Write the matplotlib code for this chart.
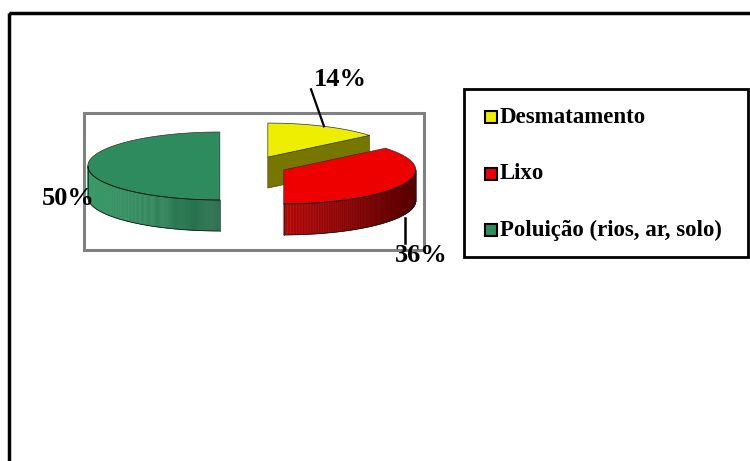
import numpy as np
import matplotlib.pyplot as plt
from matplotlib.patches import Polygon, Rectangle
from matplotlib.colors import to_rgb

# dados do gráfico
categorias = ["Desmatamento", "Lixo", "Poluição (rios, ar, solo)"]
valores = [14, 36, 50]
cores_topo = ["#eeee00", "#ee0000", "#2e8b5e"]
cores_lado = [("#777700", "#777700"), ("#b40000", "#560000"), ("#3a9c6a", "#216846")]
explode = [0.29, 0.27, 0.24]

fig = plt.figure(figsize=(7.5, 4.61), dpi=100)
ax = fig.add_axes([0, 0, 1, 1])
ax.set_xlim(0, 750)
ax.set_ylim(461, 0)
ax.axis('off')

# moldura externa e área do gráfico
ax.add_patch(Rectangle((9, 13), 760, 470, fill=False, ec='black', lw=2.5))
ax.add_patch(Rectangle((84, 113), 340, 137, fill=False, ec='#808080', lw=2.2))

# pizza 3D em perspectiva
cx0, cy0 = 251.5, 166
ra, rb, prof = 132, 34, 31


def ponto(cx, cy, t, dz=0):
    return cx + ra * np.cos(t), cy - rb * np.sin(t) + dz


def mistura(c1, c2, f):
    a, b = np.array(to_rgb(c1)), np.array(to_rgb(c2))
    return a + (b - a) * f


total = sum(valores)
ang = np.deg2rad(90)
geo = []
for i, v in enumerate(valores):
    varre = np.deg2rad(360 * v / total)
    t1, t0 = ang, ang - varre
    meio = (t0 + t1) / 2
    cx = cx0 + explode[i] * ra * np.cos(meio)
    cy = cy0 - explode[i] * rb * np.sin(meio)
    geo.append((cx, cy, t0, t1, meio))
    ang = t0

for i, (cx, cy, t0, t1, meio) in enumerate(geo):
    # face de corte visível (lado final do setor, voltada para frente)
    n_fim = t0 - np.pi / 2
    if np.sin(n_fim) < 0 and abs(np.cos(t0)) > 1e-6:
        px, py = ponto(cx, cy, t0)
        ax.add_patch(Polygon([(cx, cy), (px, py), (px, py + prof), (cx, cy + prof)],
                             closed=True, fc=cores_lado[i][0], ec='#333300', lw=0.4))
    # lateral frontal com degradê
    ts = np.linspace(t0, t1, 400)
    ts = ts[np.sin(ts) <= 0]
    if len(ts) > 1:
        xs = cx + ra * np.cos(ts)
        for k in range(len(ts) - 1):
            f = np.clip((xs[k] - xs.min()) / (xs.max() - xs.min()), 0, 1)
            c = mistura(cores_lado[i][0], cores_lado[i][1], f)
            p0, p1 = ponto(cx, cy, ts[k]), ponto(cx, cy, ts[k + 1])
            ax.add_patch(Polygon([p0, p1, (p1[0], p1[1] + prof), (p0[0], p0[1] + prof)],
                                 closed=True, fc=c, ec=c, lw=0.3))
        yb = cy - rb * np.sin(ts)
        ax.plot(xs, yb + prof, color='#102010', lw=0.6)
        ax.plot(xs, yb, color='#102010', lw=0.6)
        for j in (0, -1):
            ax.plot([xs[j], xs[j]], [yb[j], yb[j] + prof], color='#102010', lw=0.5)
    # topo do setor
    tt = np.linspace(t0, t1, 200)
    pts = [(cx, cy)] + [ponto(cx, cy, t) for t in tt]
    ax.add_patch(Polygon(pts, closed=True, fc=cores_topo[i], ec='#303030', lw=0.5))

# rótulos de porcentagem
fonte = dict(family='Liberation Serif', fontweight='bold', fontsize=19, color='black')
cx, cy, t0, t1, meio = geo[0]
px, py = ponto(cx, cy, meio)
ax.plot([px, px - 13], [py, py - 37], color='black', lw=1.6)
ax.text(px - 10, py - 35, f"{valores[0]}%", ha='left', va='bottom', **fonte)

cx, cy, t0, t1, meio = geo[1]
px, py = ponto(cx, cy, meio, prof)
ax.plot([px + 2, px + 2], [py + 3, py + 28], color='black', lw=1.8)
ax.text(px + 18, py + 29, f"{valores[1]}%", ha='center', va='top', **fonte)

cx, cy, t0, t1, meio = geo[2]
px, py = ponto(cx, cy, meio, prof)
ax.text(px + 7, py + 1, f"{valores[2]}%", ha='right', va='center', **fonte)

# legenda
ax.add_patch(Rectangle((464, 89), 284, 168, fill=False, ec='black', lw=2))
for i, nome in enumerate(categorias):
    y = 117 + i * 56.5
    ax.add_patch(Rectangle((485, y - 6), 12, 12, fc=cores_topo[i], ec='black', lw=1.5))
    ax.text(500, y, nome, ha='left', va='center', family='Liberation Serif',
            fontweight='bold', fontsize=16.5, color='black')

fig.savefig('out.png', dpi=100)
